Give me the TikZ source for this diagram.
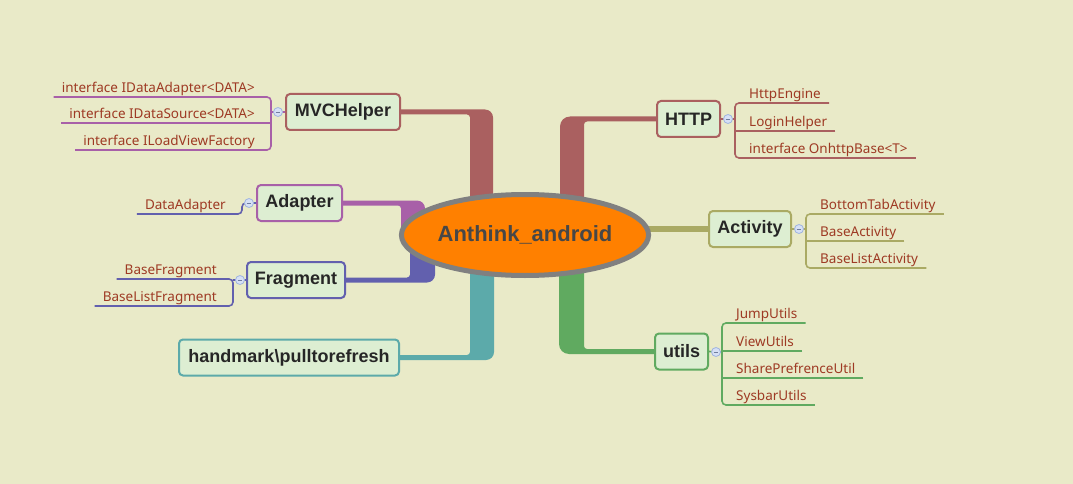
\documentclass[tikz,border=0pt]{standalone}
\usepackage{fontspec}
\setmainfont{Noto Sans}
\newfontfamily\topicfont{Liberation Sans}
\usepackage{xcolor}
\usetikzlibrary{calc}
\usetikzlibrary{shapes.geometric}

\definecolor{bgcol}{RGB}{233,234,200}
\definecolor{boxfill}{RGB}{221,238,210}
\definecolor{leafred}{RGB}{158,58,36}
\definecolor{cbrown}{RGB}{170,96,96}
\definecolor{cmagenta}{RGB}{168,96,168}
\definecolor{cpurple}{RGB}{98,96,174}
\definecolor{cteal}{RGB}{92,170,170}
\definecolor{cgreen}{RGB}{96,170,96}
\definecolor{colive}{RGB}{170,170,100}
\definecolor{hubfill}{RGB}{255,128,0}
\definecolor{hubline}{RGB}{128,128,128}
\definecolor{knobfill}{RGB}{214,224,245}
\definecolor{knobline}{RGB}{160,180,225}

\begin{document}
\begin{tikzpicture}[x=1pt, y=-1pt,
  topic/.style={rectangle, rounded corners=4pt, draw, line width=2pt, fill=boxfill, minimum height=36pt, inner xsep=0pt, font=\topicfont\bfseries\fontsize{18}{20}\selectfont, text=black!85},
  leaf/.style={inner xsep=8pt, inner ysep=0pt, text depth=4.5pt, font=\fontsize{13.5}{15}\selectfont, text=leafred},
  knob/.style={circle, draw=knobline, fill=knobfill, line width=0.8pt, minimum size=9pt, inner sep=0pt,
    path picture={\draw[knobline!70!black, line width=0.7pt] ([xshift=-2.4pt]path picture bounding box.center) -- ([xshift=2.4pt]path picture bounding box.center);}},
  twig/.style={line width=1.6pt, rounded corners=4pt}]

\fill[bgcol] (0,0) rectangle (1073,484);
\useasboundingbox (0,0) rectangle (1073,484);

% Topics
\node[topic, draw=cbrown, minimum width=114pt] at (343,112) (mvc) {MVCHelper};
\node[topic, draw=cbrown, minimum width=63pt] at (688.5,119) (http) {HTTP};
\node[topic, draw=cmagenta, minimum width=85pt] at (299.5,203) (adapter) {Adapter};
\node[topic, draw=colive, minimum width=82pt] at (750,229) (activity) {Activity};
\node[topic, draw=cpurple, minimum width=98pt] at (296,280) (frag) {Fragment};
\node[topic, draw=cteal, minimum width=220pt] at (289,357.5) (hand) {handmark\textbackslash pulltorefresh};
\node[topic, draw=cgreen, minimum width=53pt] at (681.5,351.5) (utils) {utils};

% Branches
\fill[cbrown] ([yshift=2.5pt]mvc.east) [rounded corners=8pt] -- (493,109.5) [sharp corners] -- (493,235) -- (470,235) [rounded corners=3pt] -- (470,114.5) [sharp corners] -- ([yshift=-2.5pt]mvc.east) -- cycle;
\fill[cbrown] ([yshift=2.5pt]http.west) [rounded corners=10pt] -- (560,116.5) [sharp corners] -- (560,235) -- (584,235) [rounded corners=3pt] -- (584,121.5) [sharp corners] -- ([yshift=-2.5pt]http.west) -- cycle;
\fill[cmagenta] ([yshift=2.5pt]adapter.east) [rounded corners=8pt] -- (425,200.5) [sharp corners] -- (425,235) -- (401,235) [rounded corners=3pt] -- (401,205.5) [sharp corners] -- ([yshift=-2.5pt]adapter.east) -- cycle;
\fill[cpurple] ([yshift=2.5pt]frag.east) [rounded corners=3pt] -- (410,277.5) [sharp corners] -- (410,235) -- (435,235) [rounded corners=8pt] -- (435,282.5) [sharp corners] -- ([yshift=-2.5pt]frag.east) -- cycle;
\fill[cteal] ([yshift=2.5pt]hand.east) [rounded corners=3pt] -- (470,355) [sharp corners] -- (470,235) -- (494,235) [rounded corners=8pt] -- (494,360) [sharp corners] -- ([yshift=-2.5pt]hand.east) -- cycle;
\fill[cgreen] ([yshift=2.5pt]utils.west) [rounded corners=3pt] -- (584,349) [sharp corners] -- (584,235) -- (559,235) [rounded corners=10pt] -- (559,354) [sharp corners] -- ([yshift=-2.5pt]utils.west) -- cycle;
\draw[colive, line width=5.5pt] (activity.west) -- (activity.west -| 525,0);

% Hub
\node[ellipse, draw=hubline, line width=5pt, fill=hubfill, minimum width=241pt, minimum height=81pt, inner sep=0pt, font=\topicfont\bfseries\fontsize{22}{24}\selectfont, text=black!72] at (525,235) (hub) {Anthink\_android};

% Leaves
\node[leaf, anchor=south east] at (263,97) (mvc1) {interface IDataAdapter<DATA>};
\node[leaf, anchor=south east] at (263,123) (mvc2) {interface IDataSource<DATA>};
\node[leaf, anchor=south east] at (263,150) (mvc3) {interface ILoadViewFactory};
\node[leaf, anchor=south east] at (234,214) (ad1) {DataAdapter};
\node[leaf, anchor=south east] at (225,279) (fr1) {BaseFragment};
\node[leaf, anchor=south east] at (225,306) (fr2) {BaseListFragment};
\node[leaf, anchor=south west] at (741,103) (ht1) {HttpEngine};
\node[leaf, anchor=south west] at (741,131) (ht2) {LoginHelper};
\node[leaf, anchor=south west] at (741,158) (ht3) {interface OnhttpBase<T>};
\node[leaf, anchor=south west] at (812,214) (ac1) {BottomTabActivity};
\node[leaf, anchor=south west] at (812,241) (ac2) {BaseActivity};
\node[leaf, anchor=south west] at (812,268) (ac3) {BaseListActivity};
\node[leaf, anchor=south west] at (728,323) (ut1) {JumpUtils};
\node[leaf, anchor=south west] at (728,351) (ut2) {ViewUtils};
\node[leaf, anchor=south west] at (728,378) (ut3) {SharePrefrenceUtil};
\node[leaf, anchor=south west] at (728,405) (ut4) {SysbarUtils};

% Brackets
\coordinate (bmvc) at (271,112);
\coordinate (bad) at (242,203);
\coordinate (bfr) at (233,280);
\coordinate (bht) at (735,119);
\coordinate (bac) at (806,229);
\coordinate (but) at (722,352);

\draw[twig, cmagenta] (mvc.west) -- (bmvc);
\draw[twig, cmagenta] (mvc1.south west) -- (mvc1.south west -| bmvc) -- (mvc3.south west -| bmvc) -- (mvc3.south west);
\draw[twig, cmagenta] (mvc2.south west) -- (mvc2.south west -| bmvc);
\draw[twig, cpurple] (adapter.west) -- (bad) -- (ad1.south west -| bad) -- (ad1.south west);
\draw[twig, cpurple] (frag.west) -- (bfr);
\draw[twig, cpurple] (fr1.south west) -- (fr1.south west -| bfr) -- (fr2.south west -| bfr) -- (fr2.south west);
\draw[twig, cbrown] (http.east) -- (bht);
\draw[twig, cbrown] (ht1.south east) -- (ht1.south east -| bht) -- (ht3.south east -| bht) -- (ht3.south east);
\draw[twig, cbrown] (ht2.south east) -- (ht2.south east -| bht);
\draw[twig, colive] (activity.east) -- (bac);
\draw[twig, colive] (ac1.south east) -- (ac1.south east -| bac) -- (ac3.south east -| bac) -- (ac3.south east);
\draw[twig, colive] (ac2.south east) -- (ac2.south east -| bac);
\draw[twig, cgreen] (utils.east) -- (but);
\draw[twig, cgreen] (ut1.south east) -- (ut1.south east -| but) -- (ut4.south east -| but) -- (ut4.south east);
\draw[twig, cgreen] (ut2.south east) -- (ut2.south east -| but);
\draw[twig, cgreen] (ut3.south east) -- (ut3.south east -| but);

% Knobs
\node[knob] at (278,112) (kmvc) {};
\node[knob] at (249,203) (kad) {};
\node[knob] at (240,280) (kfr) {};
\node[knob] at (728,119) (kht) {};
\node[knob] at (799,229) (kac) {};
\node[knob] at (716,352) (kut) {};

\end{tikzpicture}
\end{document}
